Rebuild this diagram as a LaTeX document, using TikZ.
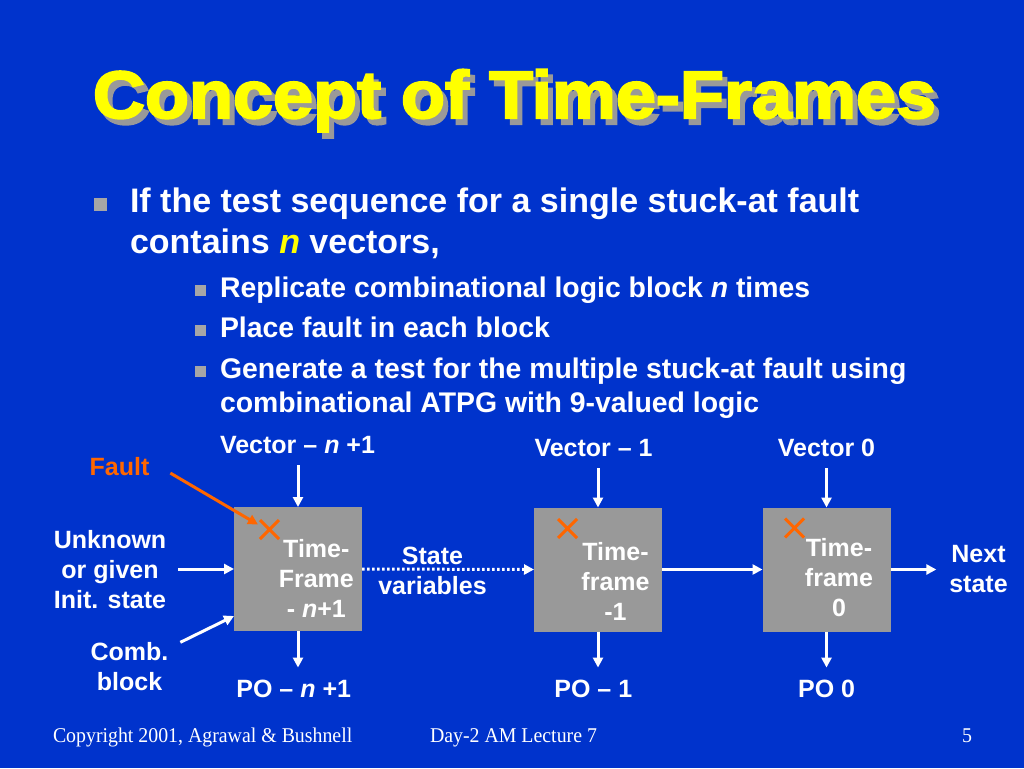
\documentclass[tikz,border=0pt]{standalone}
\usepackage{fontspec}
\usepackage{graphicx}
\setmainfont{Liberation Sans}
\newfontfamily\titlefont[FakeBold=3]{Liberation Sans Bold}
\newfontfamily\footfont{Liberation Serif}
\usetikzlibrary{arrows.meta,shapes.misc}
\definecolor{slidebg}{HTML}{0033CC}
\definecolor{boxgray}{HTML}{999999}
\definecolor{shadowgray}{HTML}{999999}
\definecolor{bulletgray}{HTML}{A6A6A6}
\definecolor{faultc}{HTML}{FF6600}
\definecolor{titley}{HTML}{FFFF00}
\newcommand\mytitletext{\resizebox{843pt}{\height}{Concept of Time-Frames}}
\begin{document}
\begin{tikzpicture}[x=1pt,y=-1pt,
  every node/.style={inner sep=0pt, outer sep=0pt, text=white},
  lbl/.style={font=\bfseries\fontsize{25}{30}\selectfont, align=center},
  bodyA/.style={font=\bfseries\fontsize{34}{41}\selectfont, anchor=base west},
  bodyB/.style={font=\bfseries\fontsize{28.4}{34}\selectfont, anchor=base west},
  bsq/.style={fill=bulletgray, minimum size=13pt},
  bsqs/.style={fill=bulletgray, minimum size=11pt},
  tfbox/.style={fill=boxgray, minimum width=128pt, minimum height=124pt},
  xmark/.style={cross out, draw=faultc, line width=3pt, minimum size=19pt},
  arr/.style={draw=white, line width=3pt, -{Triangle[length=10pt,width=10pt]}},
  faultarr/.style={draw=faultc, line width=3pt, -{Triangle[length=10pt,width=10pt]}},
  dotarr/.style={draw=white, line width=3pt, dash pattern=on 2.5pt off 2.5pt, -{Triangle[length=10pt,width=10pt]}},
  titlestyle/.style={font=\titlefont\fontsize{67}{67}\selectfont, anchor=base west},
  foot/.style={font=\footfont\fontsize{21}{21}\selectfont, anchor=base west}
]
\fill[slidebg] (0,0) rectangle (1024,768);
\useasboundingbox (0,0) rectangle (1024,768);

% title with drop shadow
\node[titlestyle] (title) at (93,118) {\rlap{\hspace*{5pt}\raisebox{-6pt}{\textcolor{shadowgray}{\mytitletext}}}\textcolor{titley}{\mytitletext}};

% bullets
\node[bsq] (bq1) at (100,204.5) {};
\node[bodyA] (l1a) at (130,212) {If the test sequence for a single stuck-at fault};
\node[bodyA] (l1b) at (130,253) {contains \textcolor{titley}{\itshape n} vectors,};
\node[bsqs] (bq2) at (200.5,290.5) {};
\node[bodyB] (l2a) at (220,297) {Replicate combinational logic block \textit{n} times};
\node[bsqs] (bq3) at (200.5,330.5) {};
\node[bodyB] (l2b) at (220,337) {Place fault in each block};
\node[bsqs] (bq4) at (200.5,371.5) {};
\node[bodyB] (l2c) at (220,378) {Generate a test for the multiple stuck-at fault using};
\node[bodyB] (l2d) at (220,412) {combinational ATPG with 9-valued logic};

% time-frame blocks
\node[tfbox] (f1) at (298,569) {};
\node[tfbox] (f2) at (598,569.5) {};
\node[tfbox] (f3) at (826.5,569.5) {};
\node[xmark] (x1) at (269.5,529.5) {};
\node[xmark] (x2) at (567.5,528.5) {};
\node[xmark] (x3) at (794.5,528) {};
\node[lbl] (t1) at (316.3,578) {Time-\\Frame\\- \textit{n}+1};
\node[lbl] (t2) at (615.5,581) {Time-\\frame\\-1};
\node[lbl] (t3) at (839,578) {Time-\\frame\\0};

% labels
\node[lbl, anchor=base] (v1) at (297.5,453) {Vector – \textit{n} +1};
\node[lbl, anchor=base] (v2) at (593.6,456) {Vector – 1};
\node[lbl, anchor=base] (v3) at (826.5,456) {Vector 0};
\node[lbl, anchor=base] (p1) at (293.7,697) {PO – \textit{n} +1};
\node[lbl, anchor=base] (p2) at (593.3,697) {PO – 1};
\node[lbl, anchor=base] (p3) at (826.6,697) {PO 0};
\node[lbl, anchor=base, text=faultc] (fault) at (119.5,475) {Fault};
\node[lbl] (init) at (110,570) {Unknown\\or given\\Init. state};
\node[lbl] (comb) at (129.5,666.5) {Comb.\\block};
\node[lbl] (sv) at (432.5,570.5) {State\\variables};
\node[lbl] (ns) at (978.5,569.5) {Next\\state};

% connectors
\draw[arr, shorten <=12pt] (v1.south -| f1.north) -- (f1.north);
\draw[arr, shorten <=12pt] (v2.south -| f2.north) -- (f2.north);
\draw[arr, shorten <=12pt] (v3.south -| f3.north) -- (f3.north);
\draw[arr, shorten >=12pt] (f1.south) -- (f1.south |- p1.north);
\draw[arr, shorten >=12pt] (f2.south) -- (f2.south |- p2.north);
\draw[arr, shorten >=12pt] (f3.south) -- (f3.south |- p3.north);
\draw[arr, shorten <=12pt] (init.east |- f1.west) -- (f1.west);
\draw[arr] ([xshift=12pt]comb.north east) -- ([yshift=15pt]f1.south west);
\draw[faultarr] ([xshift=21pt,yshift=-7pt]fault.east) -- ([xshift=-2pt,yshift=5pt]x1.west);
\draw[dotarr] (f1.east) -- (f2.west);
\draw[arr] (f2.east) -- (f3.west);
\draw[arr, shorten >=13pt] (f3.east) -- (f3.east -| ns.west);

% footer
\node[foot] (copy) at (53,742) {\scalebox{0.945}[1]{Copyright 2001, Agrawal \& Bushnell}};
\node[foot] (day) at (430,742) {\scalebox{0.945}[1]{Day-2 AM Lecture 7}};
\node[foot] (pg) at (962,742) {\scalebox{0.945}[1]{5}};
\end{tikzpicture}
\end{document}
